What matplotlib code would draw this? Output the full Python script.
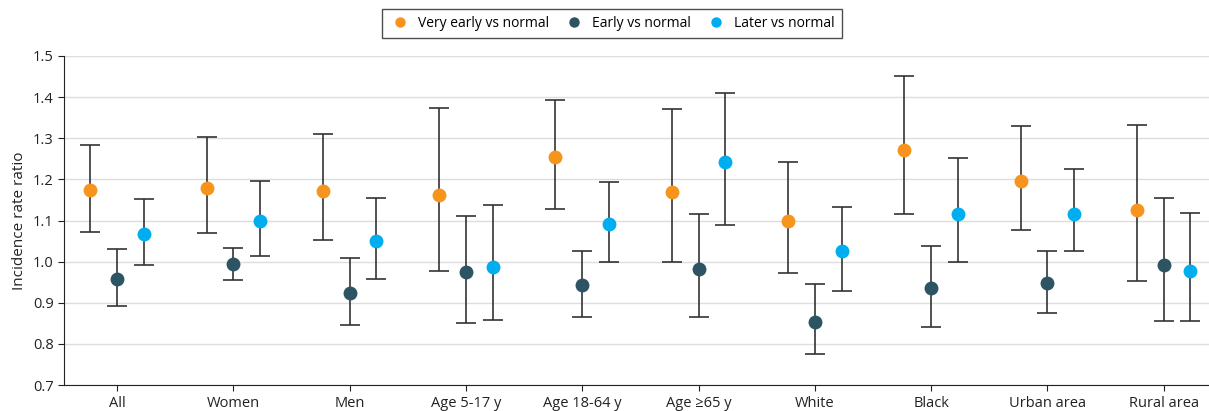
import matplotlib.pyplot as plt
import numpy as np

plt.rcParams['font.family'] = ['Open Sans', 'DejaVu Sans']

categories = ["All", "Women", "Men", "Age 5-17 y", "Age 18-64 y", "Age ≥65 y",
              "White", "Black", "Urban area", "Rural area"]

# Very early vs normal
ve_est = [1.173, 1.179, 1.172, 1.161, 1.254, 1.170, 1.100, 1.271, 1.195, 1.125]
ve_lo = [1.072, 1.069, 1.052, 0.978, 1.129, 1.000, 0.973, 1.115, 1.076, 0.953]
ve_hi = [1.283, 1.304, 1.310, 1.373, 1.394, 1.372, 1.241, 1.450, 1.329, 1.332]

# Early vs normal
e_est = [0.957, 0.994, 0.924, 0.974, 0.944, 0.983, 0.854, 0.935, 0.948, 0.992]
e_lo = [0.892, 0.956, 0.847, 0.852, 0.866, 0.866, 0.775, 0.840, 0.875, 0.856]
e_hi = [1.030, 1.033, 1.008, 1.110, 1.027, 1.115, 0.946, 1.039, 1.027, 1.154]

# Later vs normal
l_est = [1.068, 1.100, 1.051, 0.987, 1.092, 1.241, 1.025, 1.115, 1.117, 0.977]
l_lo = [0.993, 1.013, 0.959, 0.858, 1.000, 1.090, 0.929, 1.000, 1.025, 0.856]
l_hi = [1.152, 1.196, 1.154, 1.137, 1.194, 1.411, 1.133, 1.251, 1.224, 1.119]

series = [
    ("Very early vs normal", ve_est, ve_lo, ve_hi, "#F7941D", -0.23),
    ("Early vs normal", e_est, e_lo, e_hi, "#2D5463", 0.0),
    ("Later vs normal", l_est, l_lo, l_hi, "#00AEEF", 0.23),
]

fig = plt.figure(figsize=(12.09, 4.11), dpi=100)
ax = fig.add_axes([0.053, 0.063, 0.947, 0.801])

x = np.arange(len(categories))
for label, est, lo, hi, color, off in series:
    est = np.array(est)
    yerr = [est - np.array(lo), np.array(hi) - est]
    ax.errorbar(x + off, est, yerr=yerr, fmt='none', ecolor='#333333',
                elinewidth=1.2, capsize=7, capthick=1.2, zorder=2)
    ax.plot(x + off, est, 'o', color=color, markersize=10, markeredgewidth=0,
            label=label, zorder=3)

ax.set_xlim(-0.456, 9.39)
ax.set_ylim(0.7, 1.5)
ax.set_yticks(np.arange(0.7, 1.51, 0.1))
ax.set_yticklabels([f"{v:.1f}" for v in np.arange(0.7, 1.51, 0.1)])
ax.set_xticks(x)
ax.set_xticklabels(categories)
ax.tick_params(labelsize=10.5, colors='#222222', length=4)
ax.set_ylabel("Incidence rate ratio", fontsize=11, color='#222222')
ax.yaxis.grid(True, color='#dddddd', linewidth=1)
ax.set_axisbelow(True)
for s in ['top', 'right']:
    ax.spines[s].set_visible(False)
for s in ['left', 'bottom']:
    ax.spines[s].set_color('#222222')

fig.legend(loc='upper center', bbox_to_anchor=(0.506, 0.995), ncol=3,
           frameon=True, fancybox=False, edgecolor='#222222', fontsize=10,
           handletextpad=0.5, columnspacing=1.0, borderpad=0.5,
           handlelength=1.6, markerscale=0.75)

fig.savefig("out.png", dpi=100)
